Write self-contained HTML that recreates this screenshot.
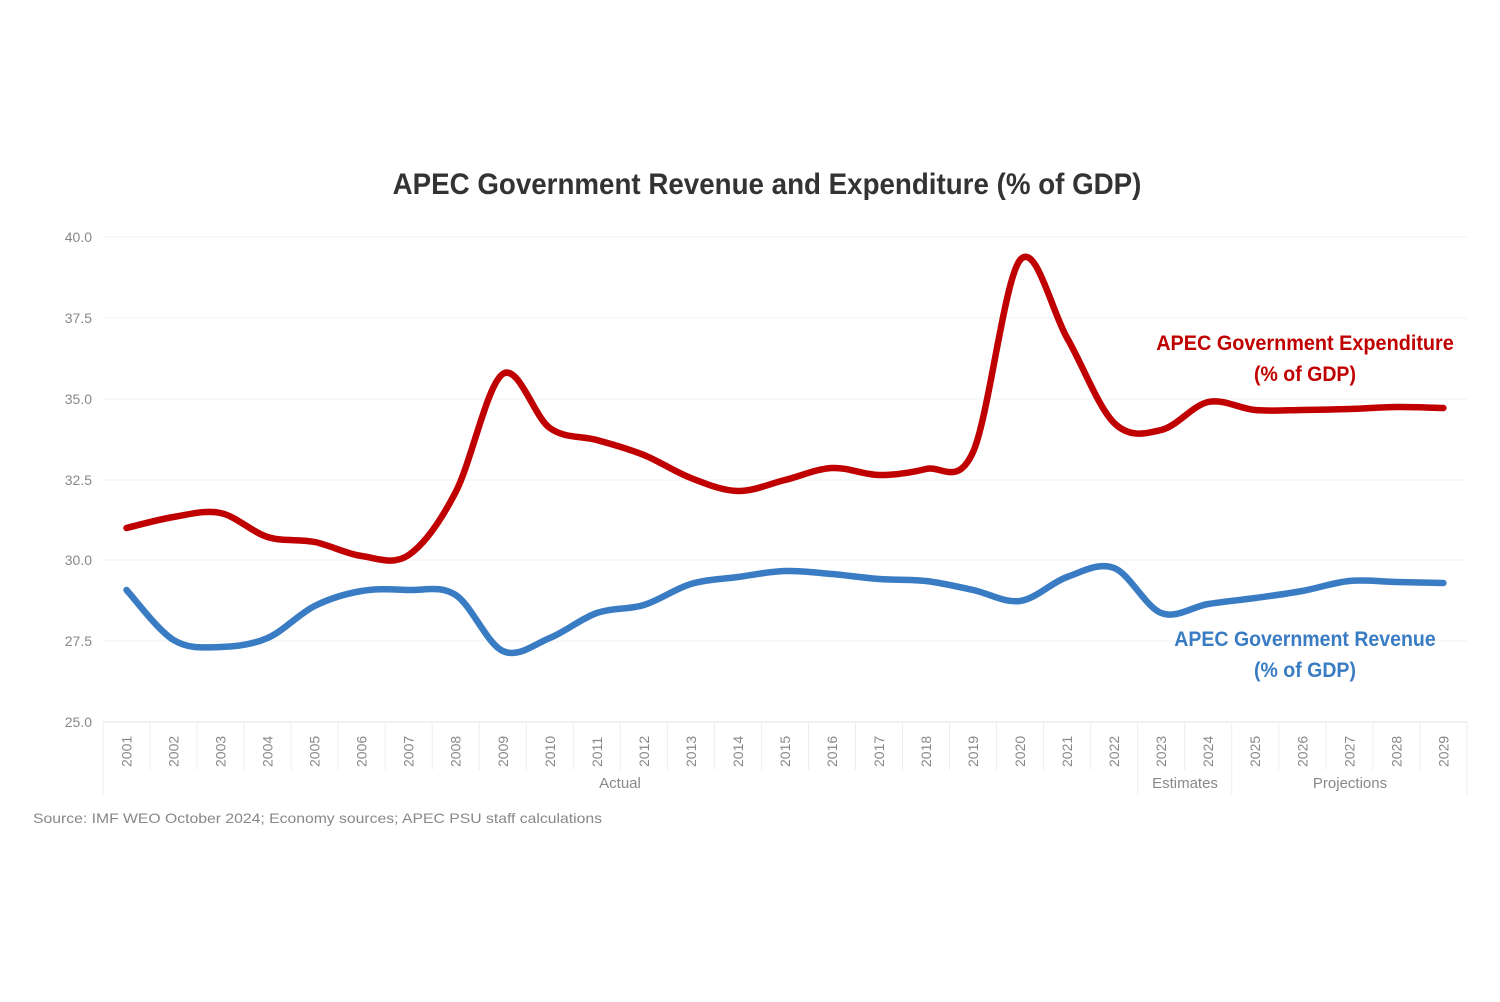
<!DOCTYPE html>
<html><head><meta charset="utf-8"><style>
html,body{margin:0;padding:0;background:#fff;}
svg{display:block;font-family:"Liberation Sans",sans-serif;}
</style></head><body>
<svg id="s" width="1500" height="1002" viewBox="0 0 1500 1002" xmlns="http://www.w3.org/2000/svg">
<text x="767" y="194" text-anchor="middle" font-size="30" font-weight="bold" fill="#333" transform="translate(767 0) scale(0.925 1) translate(-767 0)">APEC Government Revenue and Expenditure (% of GDP)</text>
<g stroke="#f2f2f2" stroke-width="1">
<line x1="103" y1="237" x2="1467" y2="237"/>
<line x1="103" y1="318" x2="1467" y2="318"/>
<line x1="103" y1="399" x2="1467" y2="399"/>
<line x1="103" y1="480" x2="1467" y2="480"/>
<line x1="103" y1="560" x2="1467" y2="560"/>
<line x1="103" y1="641" x2="1467" y2="641"/>
</g>
<line x1="103" y1="722" x2="1467" y2="722" stroke="#e6e6e6"/>
<g font-size="14" fill="#888" text-anchor="end">
<text x="92" y="242">40.0</text><text x="92" y="323">37.5</text><text x="92" y="404">35.0</text>
<text x="92" y="485">32.5</text><text x="92" y="565">30.0</text><text x="92" y="646">27.5</text><text x="92" y="727">25.0</text>
</g>
<g id="ticks" stroke="#eee" stroke-width="1"></g>
<g id="yl" font-size="14" fill="#888"></g>
<g font-size="15" fill="#888" text-anchor="middle">
<text x="620" y="788">Actual</text><text x="1185" y="788">Estimates</text><text x="1350" y="788">Projections</text>
</g>
<text x="33" y="823" font-size="14" fill="#888" textLength="569" lengthAdjust="spacingAndGlyphs">Source: IMF WEO October 2024; Economy sources; APEC PSU staff calculations</text>
<path id="exp" fill="none" stroke="#c00000" stroke-width="6.5" stroke-linecap="round" stroke-linejoin="round"/>
<path id="rev" fill="none" stroke="#3a7cc3" stroke-width="6.5" stroke-linecap="round" stroke-linejoin="round"/>
<g font-size="21" font-weight="bold" text-anchor="middle">
<text x="1305" y="350" fill="#c00000" transform="translate(1305 0) scale(0.945 1) translate(-1305 0)">APEC Government Expenditure</text>
<text x="1305" y="381" fill="#c00000" transform="translate(1305 0) scale(0.93 1) translate(-1305 0)">(% of GDP)</text>
<text x="1305" y="646" fill="#3a7cc3" transform="translate(1305 0) scale(0.93 1) translate(-1305 0)">APEC Government Revenue</text>
<text x="1305" y="677" fill="#3a7cc3" transform="translate(1305 0) scale(0.93 1) translate(-1305 0)">(% of GDP)</text>
</g>
</svg>
<script>
var NS="http://www.w3.org/2000/svg";
var L=103,W=47.03;
var tk=document.getElementById("ticks"),yl=document.getElementById("yl");
function ln(x1,y1,x2,y2){var l=document.createElementNS(NS,"line");l.setAttribute("x1",x1);l.setAttribute("y1",y1);l.setAttribute("x2",x2);l.setAttribute("y2",y2);tk.appendChild(l);}
for(var i=0;i<=29;i++){var x=L+i*W;var bot=(i==0||i==22||i==24||i==29)?795:770;ln(x,722,x,bot);}
for(var i=0;i<29;i++){var cx=L+W/2+i*W;var t=document.createElementNS(NS,"text");t.setAttribute("transform","translate("+(cx+5)+" 767) rotate(-90)");t.textContent=2001+i;yl.appendChild(t);}
var E=[528,517,513,537,542,556,555,492,374,428,440,455,478,491,480,468,475,469,452,260,338,423,430,402,410,410,409,407,408];
var R=[590,640,647,638,606,591,590,595,651,638,613,605,584,577,571,574,579,581,590,601,577,568,613,604,598,591,581,582,583];
function path(a){var p=a.map(function(y,i){return [L+W/2+i*W,y];});var d="M"+p[0][0]+","+p[0][1];
for(var i=0;i<p.length-1;i++){var p0=p[i-1]||p[i],p1=p[i],p2=p[i+1],p3=p[i+2]||p2;
d+=" C"+(p1[0]+(p2[0]-p0[0])/6)+","+(p1[1]+(p2[1]-p0[1])/6)+" "+(p2[0]-(p3[0]-p1[0])/6)+","+(p2[1]-(p3[1]-p1[1])/6)+" "+p2[0]+","+p2[1];}
return d;}
document.getElementById("exp").setAttribute("d",path(E));
document.getElementById("rev").setAttribute("d",path(R));
</script>
</body></html>
